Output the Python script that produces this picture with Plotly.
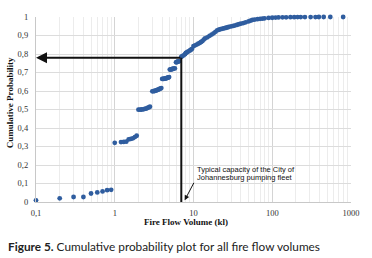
import numpy as np
import plotly.graph_objects as go

# ---- data ----
volume_kl = [
    0.1, 0.2, 0.3, 0.4, 0.5, 0.6, 0.7, 0.8, 0.9,
    1.0, 1.2, 1.3, 1.4, 1.5, 1.6, 1.7, 1.8, 1.9,
    2.0, 2.1, 2.2, 2.3, 2.4, 2.5, 2.6, 2.7, 2.8,
    3.0, 3.1, 3.2, 3.3, 3.4, 3.5, 3.6, 3.7, 3.8, 3.9,
    4.0, 4.1, 4.2, 4.3, 4.4, 4.5, 4.6, 4.7, 4.8, 4.9,
    5.0, 5.1, 5.2, 5.3, 5.4, 5.5, 5.6, 5.8,
    6.0, 6.1, 6.2, 6.3, 6.4, 6.6,
    7.0, 7.2, 7.5, 7.8, 8.0, 8.3, 8.6, 9.0, 9.3, 9.6,
    10, 10.5, 11, 11.5, 12, 12.5, 13, 13.5, 14, 15, 16, 17, 18, 19,
    20, 21, 22, 23, 24, 25, 26, 27, 28, 30, 32, 34, 36, 38, 40,
    43, 46, 50, 53, 56, 60, 65, 70, 75, 80, 90, 100, 110, 120, 135,
    150, 170, 190, 210, 230, 260, 307, 354, 391, 450, 546, 795,
]
cum_prob = [
    0.009, 0.020, 0.027, 0.027, 0.046, 0.052, 0.057, 0.064, 0.066,
    0.320, 0.324, 0.325, 0.326, 0.338, 0.341, 0.344, 0.351, 0.358,
    0.499, 0.499, 0.500, 0.501, 0.503, 0.505, 0.508, 0.511, 0.515,
    0.598, 0.599, 0.600, 0.602, 0.604, 0.606, 0.608, 0.611, 0.613, 0.616,
    0.665, 0.665, 0.666, 0.667, 0.668, 0.669, 0.670, 0.672, 0.673, 0.675,
    0.716, 0.716, 0.717, 0.718, 0.719, 0.720, 0.721, 0.722,
    0.755, 0.756, 0.757, 0.758, 0.759, 0.761,
    0.785, 0.788, 0.793, 0.799, 0.806, 0.810, 0.814, 0.819, 0.823, 0.828,
    0.843, 0.847, 0.851, 0.856, 0.860, 0.865, 0.870, 0.878, 0.884, 0.890,
    0.898, 0.905, 0.912, 0.920,
    0.928, 0.931, 0.934, 0.936, 0.938, 0.940, 0.942, 0.944, 0.946, 0.949,
    0.952, 0.955, 0.958, 0.961, 0.964,
    0.967, 0.971, 0.976, 0.980, 0.984, 0.986, 0.988, 0.990, 0.991, 0.993,
    0.995, 0.996, 0.997, 0.9975, 0.998,
    0.9985, 0.999, 0.9992, 0.9994, 0.9996, 0.9997, 0.9998, 0.9998, 0.9999,
    0.9999, 1.0, 1.0,
]
x_tick_vals = [0.1, 1, 10, 100, 1000]
x_tick_text = ["0,1", "1", "10", "100", "1000"]
x_minor_vals = [m * d for d in (0.1, 1, 10, 100) for m in range(2, 10)]
y_tick_vals = [0, 0.1, 0.2, 0.3, 0.4, 0.5, 0.6, 0.7, 0.8, 0.9, 1]
y_tick_text = ["0", "0,1", "0,2", "0,3", "0,4", "0,5", "0,6", "0,7", "0,8", "0,9", "1"]
pump_capacity_kl = 7
capacity_prob = 0.78

serif = "Liberation Serif, Times New Roman, serif"
sans = "Liberation Sans, Arial, sans-serif"

fig = go.Figure()
fig.add_trace(go.Scatter(
    x=volume_kl, y=cum_prob, mode="markers",
    marker=dict(color="#2f5d9f", size=4.8, line=dict(width=0)),
    cliponaxis=False, showlegend=False,
))
# vertical capacity line
fig.add_trace(go.Scatter(
    x=[pump_capacity_kl, pump_capacity_kl], y=[0, capacity_prob], mode="lines",
    line=dict(color="#111111", width=2), showlegend=False, cliponaxis=False,
))

fig.add_annotation(
    x=-1, y=capacity_prob, xref="x", yref="y",
    ax=np.log10(pump_capacity_kl) + 0.006, ay=capacity_prob, axref="x", ayref="y",
    text="", showarrow=True, arrowhead=2, arrowsize=1.1, arrowwidth=2,
    arrowcolor="#111111", standoff=0,
)
# small pointer arrow
fig.add_annotation(
    x=0.8875, y=0.009, xref="x", yref="y", ax=10, ay=-19,
    text="", showarrow=True, arrowhead=2, arrowsize=1, arrowwidth=1,
    arrowcolor="#111111", standoff=0,
)
fig.add_annotation(
    x=0.506, y=0.174, xref="paper", yref="paper", xanchor="left", yanchor="middle",
    text="Typical capacity of the City of", showarrow=False,
    font=dict(family=sans, size=7.5, color="#111111"),
)
fig.add_annotation(
    x=0.506, y=0.131, xref="paper", yref="paper", xanchor="left", yanchor="middle",
    text="Johannesburg pumping fleet", showarrow=False,
    font=dict(family=sans, size=7.5, color="#111111"),
)
# axis titles
fig.add_annotation(
    x=0.4766, y=-0.106, xref="paper", yref="paper", xanchor="center", yanchor="middle",
    text="<b>Fire Flow Volume (kl)</b>", showarrow=False,
    font=dict(family=serif, size=9, color="#111111"),
)
fig.add_annotation(
    x=-0.084, y=0.537, xref="paper", yref="paper", xanchor="center", yanchor="middle",
    text="<b>Cumulative Probability</b>", showarrow=False, textangle=-90,
    font=dict(family=serif, size=9, color="#111111"),
)
# caption
fig.add_annotation(
    x=-0.094, y=-0.238, xref="paper", yref="paper", xanchor="left", yanchor="middle",
    text="<b>Figure 5.</b> Cumulative probability plot for all fire flow volumes",
    showarrow=False, font=dict(family="Lato, Open Sans, sans-serif", size=11.8, color="#222222"),
)

fig.update_layout(
    width=372, height=258,
    margin=dict(l=36, r=16, t=14, b=56),
    paper_bgcolor="white", plot_bgcolor="white",
    font=dict(family=serif, size=8.5, color="#333333"),
    xaxis=dict(
        type="log", range=[-1, 3],
        tickvals=x_tick_vals, ticktext=x_tick_text,
        showgrid=True, gridcolor="#d4d4d4", gridwidth=1.3,
        minor=dict(tickvals=x_minor_vals, showgrid=True, gridcolor="#ececec", gridwidth=1),
        showline=True, linecolor="#c8c8c8", linewidth=1.3,
        ticks="outside", ticklen=3, tickcolor="rgba(0,0,0,0)",
        zeroline=False,
    ),
    yaxis=dict(
        range=[0, 1],
        tickvals=y_tick_vals, ticktext=y_tick_text,
        showgrid=True, gridcolor="#dcdcdc", gridwidth=1,
        showline=True, linecolor="#c8c8c8", linewidth=1.3,
        ticks="outside", ticklen=5, tickcolor="rgba(0,0,0,0)",
        zeroline=False,
    ),
)

fig.write_html("out.html", config={"displayModeBar": False},
               post_script="document.body.style.margin='0';")
